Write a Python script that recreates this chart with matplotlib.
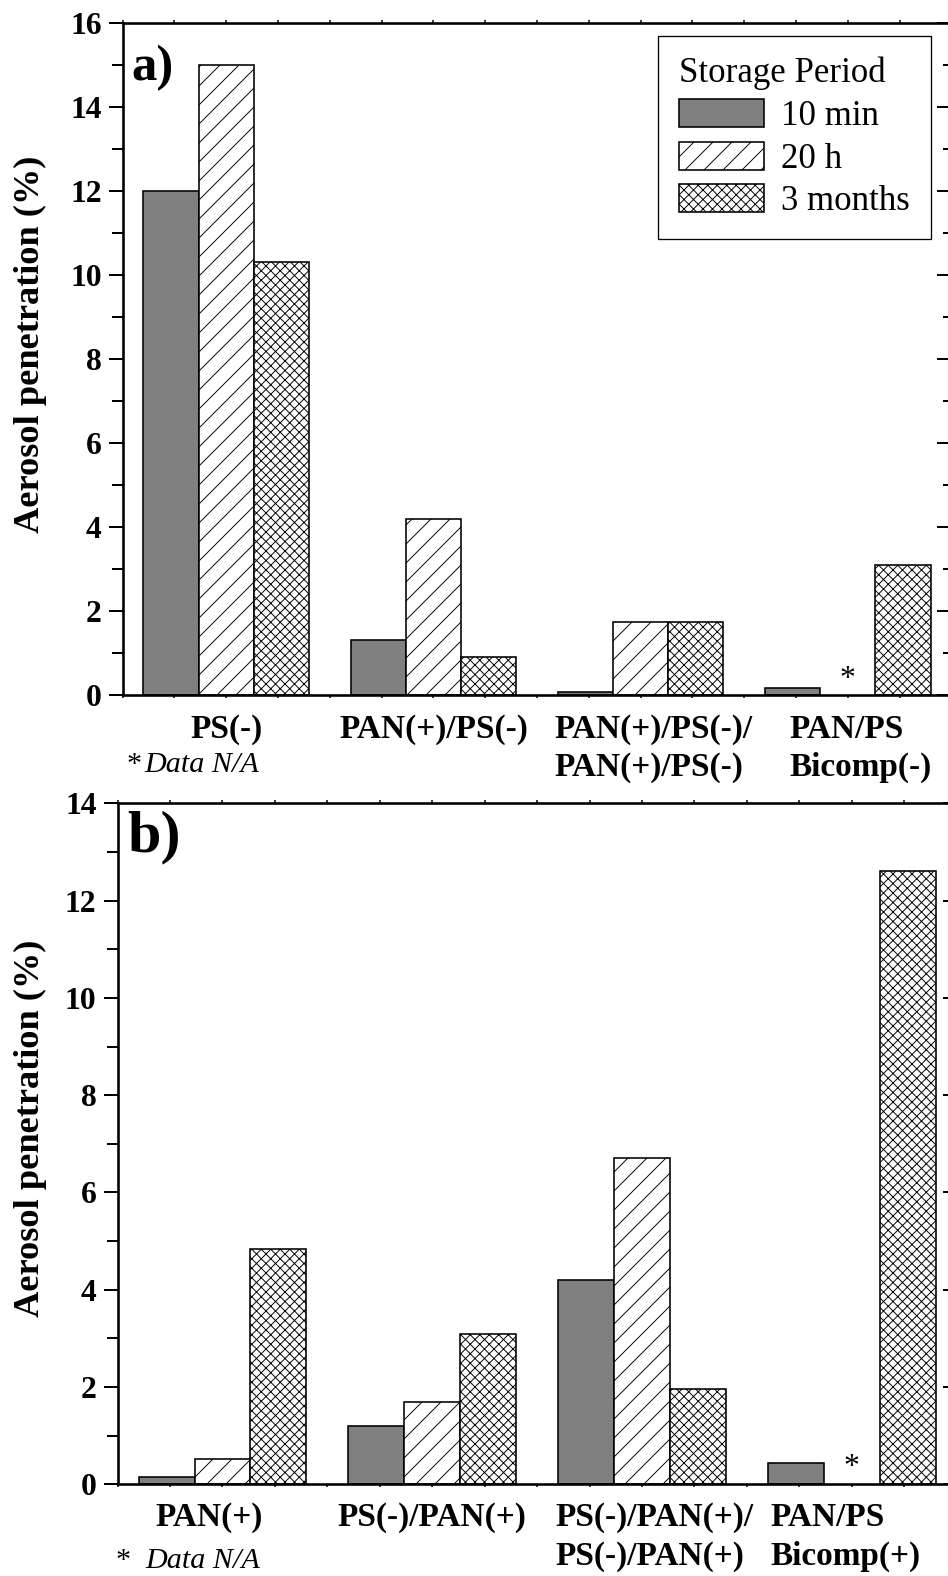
import numpy as np
import matplotlib
matplotlib.use("Agg")
import matplotlib.pyplot as plt
from matplotlib.ticker import MultipleLocator

# ---------------- data ----------------
series = ["10 min", "20 h", "3 months"]

cats_a = ["PS(-)", "PAN(+)/PS(-)", "PAN(+)/PS(-)/\nPAN(+)/PS(-)", "PAN/PS\nBicomp(-)"]
a_10min = [12.0, 1.31, 0.08, 0.16]
a_20h = [15.0, 4.2, 1.745, np.nan]
a_3months = [10.3, 0.9, 1.745, 3.09]

cats_b = ["PAN(+)", "PS(-)/PAN(+)", "PS(-)/PAN(+)/\nPS(-)/PAN(+)", "PAN/PS\nBicomp(+)"]
b_10min = [0.14, 1.2, 4.2, 0.43]
b_20h = [0.53, 1.7, 6.7, np.nan]
b_3months = [4.83, 3.1, 1.95, 12.6]

ymax_a = 16
ymax_b = 14
ylabel = "Aerosol penetration (%)"
legend_title = "Storage Period"
na_note = "Data N/A"
panel_labels = ["a)", "b)"]

# ---------------- style ----------------
DPI = 114
W, H = 948, 1576
plt.rcParams['font.family'] = ['Liberation Serif', 'DejaVu Serif']
plt.rcParams['hatch.linewidth'] = 0.6


def P(px):
    return px * 72.0 / DPI


fills = ['#808080', 'white', 'white']
hatches = [None, '//', 'xxxx']

fig = plt.figure(figsize=(W / DPI, H / DPI), dpi=DPI)


def add_axes(l, t, r, b):
    return fig.add_axes([l / W, 1 - b / H, (r - l) / W, (b - t) / H])


def draw(ax, box, cats, vals, ymax, plabel, plabel_size, plabel_off,
         cat_offsets, cat_y, note_pos, star_off, legend):
    l, t, r, b = box
    x = np.arange(1, len(cats) + 1)
    w = 0.8 / 3
    for i, (v, fc, h, name) in enumerate(zip(vals, fills, hatches, series)):
        v = np.asarray(v, float)
        xs = x + (i - 1) * w
        m = ~np.isnan(v)
        ax.bar(xs[m], v[m], width=w, color=fc, hatch=h, edgecolor='black',
               linewidth=P(1.6), label=name, zorder=2)
        for xi in xs[~m]:
            ax.annotate('*', xy=(xi, 0), xytext=(0, P(star_off)),
                        textcoords='offset points', ha='center',
                        va='baseline', fontsize=20)
    ax.set_xlim(0.5, 4.5)
    ax.set_ylim(0, ymax)
    ax.yaxis.set_major_locator(MultipleLocator(2))
    ax.yaxis.set_minor_locator(MultipleLocator(1))
    ax.set_xticks(np.arange(0.5, 4.51, 0.25))
    ax.tick_params(axis='x', which='both', direction='out', length=P(3),
                   width=P(1.5), top=True, bottom=True, labelbottom=False)
    ax.tick_params(axis='y', which='major', direction='out', length=P(14),
                   width=P(2), left=True, right=False, labelsize=20,
                   pad=P(7))
    ax.tick_params(axis='y', which='minor', direction='out', length=P(11),
                   width=P(2), left=True, right=False)
    for lb in ax.get_yticklabels():
        lb.set_fontweight('bold')
    for sp in ax.spines.values():
        sp.set_linewidth(P(2.6))
    sec = ax.secondary_yaxis('right')
    sec.yaxis.set_major_locator(MultipleLocator(2))
    sec.yaxis.set_minor_locator(MultipleLocator(1))
    sec.tick_params(axis='y', which='major', direction='in', length=P(14),
                    width=P(2), labelright=False)
    sec.tick_params(axis='y', which='minor', direction='in', length=P(8),
                    width=P(2))
    sec.spines['right'].set_linewidth(P(2.6))

    ax.set_ylabel(ylabel, fontsize=23, fontweight='bold')
    ax.yaxis.set_label_coords((30 - l) / (r - l), 0.5 + 15.0 / (b - t))
    ax.yaxis.label.set_verticalalignment('center')

    for xi, c, off in zip(x, cats, cat_offsets):
        ax.annotate(c, xy=(xi, 0), xycoords=('data', 'axes fraction'),
                    xytext=(P(off), -P(cat_y)), textcoords='offset points',
                    ha='center', va='top', multialignment='left',
                    fontsize=21, fontweight='bold', linespacing=1.3)

    sx, dx, by = note_pos
    ax.annotate('*', xy=(0, 0), xycoords='axes fraction',
                xytext=(P(sx), -P(by)), textcoords='offset points',
                ha='left', va='baseline', fontsize=19)
    ax.annotate(na_note, xy=(0, 0), xycoords='axes fraction',
                xytext=(P(dx), -P(by)), textcoords='offset points',
                ha='left', va='baseline', fontsize=19, style='italic')

    ax.annotate(plabel, xy=(0, 1), xycoords='axes fraction',
                xytext=(P(plabel_off[0]), -P(plabel_off[1])),
                textcoords='offset points', ha='left', va='top',
                fontsize=plabel_size, fontweight='bold')

    if legend:
        box_t, box_r = 36, 931
        leg = ax.legend(title=legend_title, loc='upper right',
                        bbox_to_anchor=((box_r - l) / (r - l),
                                        (b - box_t) / (b - t)),
                        borderaxespad=0, fontsize=22, title_fontsize=22,
                        frameon=True, fancybox=False, edgecolor='black',
                        framealpha=1, handlelength=2.45, handleheight=0.85,
                        handletextpad=0.5, labelspacing=0.25, borderpad=0.6,
                        alignment='left')
        leg.get_frame().set_linewidth(P(1.3))


box_a = (122.7, 22.7, 951.3, 695)
box_b = (117.6, 803.3, 956.7, 1484.3)
ax_a = add_axes(*box_a)
ax_b = add_axes(*box_b)

draw(ax_a, box_a, cats_a, [a_10min, a_20h, a_3months], ymax_a,
     panel_labels[0], 32, (9, 22), [0, 0, 13, 13], 19, (4, 22, 77), 8, True)
draw(ax_b, box_b, cats_b, [b_10min, b_20h, b_3months], ymax_b,
     panel_labels[1], 38, (10, 7), [-13, 0, 12, -6], 18, (-2, 28, 84), 9, False)

fig.savefig("out.png", dpi=DPI)
